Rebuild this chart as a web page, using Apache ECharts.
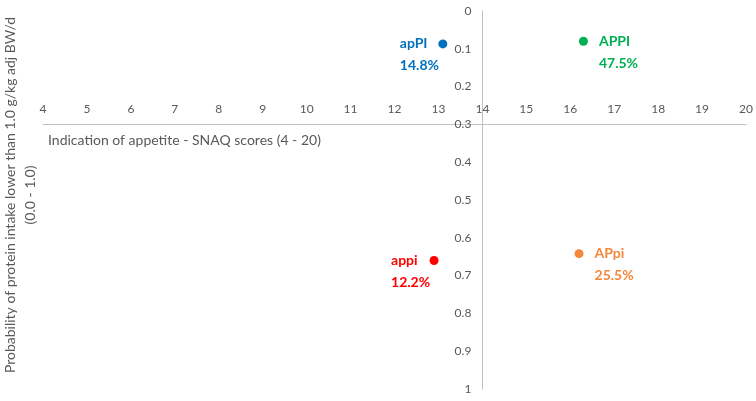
<!DOCTYPE html>
<html>
<head>
<meta charset="utf-8">
<script src="https://cdn.jsdelivr.net/npm/echarts@6/dist/echarts.min.js"></script>
<style>
html,body{margin:0;padding:0;background:#fff;}
#c{width:756px;height:401px;}
</style>
</head>
<body>
<div id="c"></div>
<script>
// ---- data ----
const groups = ["apPI", "APPI", "appi", "APpi"];
const snaqScores = [13.1, 16.3, 12.9, 16.2];
const probLowIntake = [0.087, 0.08, 0.66, 0.642];
const groupShares = ["14.8%", "47.5%", "12.2%", "25.5%"];
const labelSide = ["left", "right", "left", "right"];
const groupColors = ["#0070C0", "#00B050", "#FF0000", "#F4873A"];

const xMin = 4, xMax = 20, xStep = 1;
const yMin = 0, yMax = 1, yStep = 0.1;
const xCross = 14;   // vertical axis line sits at x = 14
const yCross = 0.3;  // horizontal axis line sits at y = 0.3

const xTitle = "Indication of appetite - SNAQ scores (4 - 20)";
const yTitle = "Probability of protein intake lower than 1.0 g/kg adj BW/d\n(0.0 - 1.0)";

const FONT = "Lato, 'Liberation Sans', sans-serif";
const AXIS_COLOR = "#BFBFBF";
const TEXT_COLOR = "#595959";

const gridLeft = 43, gridRight = 10, gridTop = 11, gridBottom = 12;

const series = groups.map((g, i) => ({
  type: "scatter",
  name: g,
  symbolSize: 9,
  itemStyle: { color: groupColors[i], opacity: 1 },
  data: [[snaqScores[i], probLowIntake[i]]],
  label: {
    show: true,
    formatter: g + "\n" + groupShares[i],
    position: labelSide[i] === "left" ? [-38.5, -6.5] : [20, -6.5],
    align: "left",
    verticalAlign: "top",
    color: groupColors[i],
    fontFamily: FONT,
    fontWeight: "bold",
    fontSize: 14,
    lineHeight: 22
  },
  emphasis: { disabled: true }
}));

const chart = echarts.init(document.getElementById("c"), null, { renderer: "canvas" });
const option = {
  animation: false,
  backgroundColor: "#fff",
  grid: { left: gridLeft, right: gridRight, top: gridTop, bottom: gridBottom, containLabel: false },
  xAxis: {
    type: "value",
    min: xMin, max: xMax, interval: xStep,
    position: "bottom",
    axisLine: { show: true, onZero: false, lineStyle: { color: AXIS_COLOR, width: 1 } },
    axisTick: { show: false },
    splitLine: { show: false },
    axisLabel: { inside: true, margin: 9, color: TEXT_COLOR, fontFamily: FONT, fontSize: 12 }
  },
  yAxis: {
    type: "value",
    inverse: true,
    min: yMin, max: yMax, interval: yStep,
    position: "left",
    axisLine: { show: true, onZero: false, lineStyle: { color: AXIS_COLOR, width: 1 } },
    axisTick: { show: false },
    splitLine: { show: false },
    axisLabel: { margin: 11, color: TEXT_COLOR, fontFamily: FONT, fontSize: 12 }
  },
  graphic: [
    {
      type: "text",
      left: 48, top: 133,
      style: { text: xTitle, fill: TEXT_COLOR, fontFamily: FONT, fontSize: 14 }
    },
    {
      type: "text",
      x: 20, y: 195,
      rotation: Math.PI / 2,
      style: {
        text: yTitle, fill: TEXT_COLOR, fontFamily: FONT, fontSize: 14,
        lineHeight: 20, align: "center", verticalAlign: "middle"
      }
    }
  ],
  series: series
};
chart.setOption(option);

// place the crossing axes through the library's own scales
const py = chart.convertToPixel({ yAxisIndex: 0 }, yCross);
const px = chart.convertToPixel({ xAxisIndex: 0 }, xCross);
const bottomPx = 401 - gridBottom;
chart.setOption({
  xAxis: { offset: py - bottomPx },
  yAxis: { offset: gridLeft - px }
});
</script>
</body>
</html>
